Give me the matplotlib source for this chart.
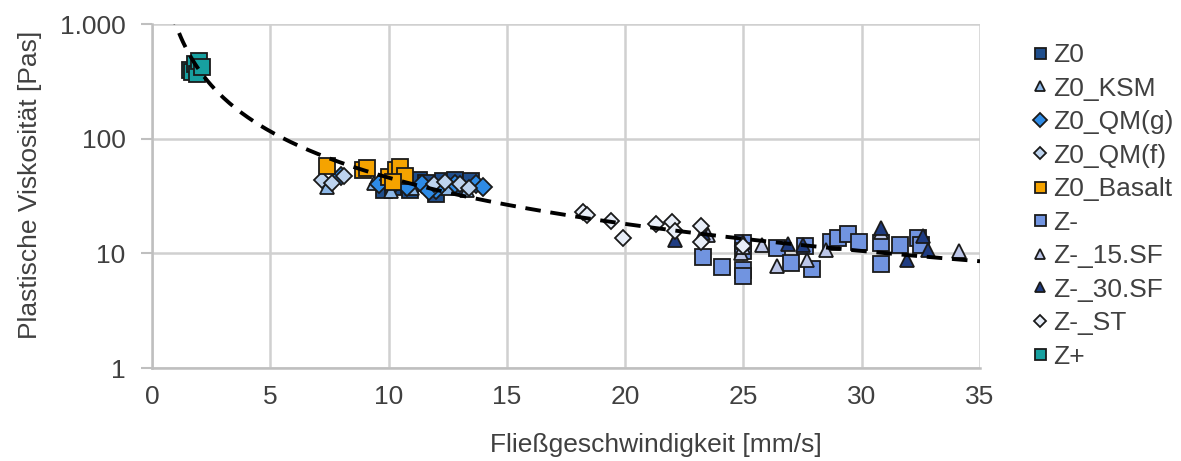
import matplotlib
matplotlib.use("Agg")
import matplotlib.pyplot as plt
import numpy as np
from matplotlib.ticker import FixedLocator, FixedFormatter, NullLocator

plt.rcParams['font.family'] = ['Liberation Sans', 'DejaVu Sans']

# ---------------- data ----------------
series_names = ["Z0", "Z0_KSM", "Z0_QM(g)", "Z0_QM(f)", "Z0_Basalt",
                "Z-", "Z-_15.SF", "Z-_30.SF", "Z-_ST", "Z+"]

z0_x = [9.8, 10.5, 10.9, 11.3, 12.0, 12.3, 12.8, 13.1, 13.5, 10.2, 11.6]
z0_y = [36, 40, 36, 44, 33, 43, 44, 38, 43, 38, 41]

z0ksm_x = [7.4, 10.1, 11.0, 12.5, 13.3, 9.4]
z0ksm_y = [38, 35, 37, 37, 36, 41]

z0qmg_x = [8.0, 9.6, 10.3, 10.8, 11.4, 12.0, 12.8, 13.7, 14.0, 11.7, 10.0]
z0qmg_y = [47, 40, 42, 38, 40, 36, 40, 40, 38, 35, 44]

z0qmf_x = [7.2, 7.6, 11.9, 12.4, 13.0, 13.4, 8.1]
z0qmf_y = [44, 41, 40, 42, 40, 37, 47]

basalt_x = [7.4, 8.9, 9.1, 10.0, 10.3, 10.5, 10.7, 10.2]
basalt_y = [58, 53, 56, 46, 53, 57, 47, 42]

zm_x = [23.3, 24.1, 25.0, 25.0, 25.0, 25.0, 26.4, 27.0, 27.9, 27.6, 28.7,
        29.0, 29.4, 29.9, 30.8, 30.8, 31.6, 32.4, 32.5]
zm_y = [9.3, 7.6, 12.3, 10.5, 7.2, 6.4, 11.1, 8.3, 7.3, 11.5, 12.6,
        13.6, 14.8, 12.6, 8.1, 12.3, 11.9, 13.6, 11.9]

z15_x = [23.5, 24.9, 25.0, 25.8, 26.4, 27.7, 28.5, 30.8, 34.1]
z15_y = [14.5, 10.1, 11.3, 11.9, 7.8, 8.8, 10.7, 15.3, 10.4]

z30_x = [22.1, 23.3, 25.0, 26.9, 27.5, 30.8, 31.9, 32.6, 32.8]
z30_y = [13.2, 15.1, 12.6, 12.0, 11.8, 16.6, 8.8, 14.1, 10.7]

zst_x = [18.2, 18.4, 19.4, 19.9, 21.3, 22.0, 22.1, 23.2, 23.2, 25.0]
zst_y = [23.0, 21.6, 19.3, 13.6, 18.0, 18.8, 15.7, 17.2, 12.6, 11.5]

zp_x = [1.6, 1.7, 1.8, 1.9, 2.0, 2.1]
zp_y = [400, 380, 450, 370, 480, 420]

# power-law trend line (Excel style): y = a * x^b
trend_a = 1000.0
trend_b = -1.34
trend_x_range = [0.8, 35.0]

x_ticks = [0, 5, 10, 15, 20, 25, 30, 35]
y_ticks = [1, 10, 100, 1000]
y_tick_labels = ["1", "10", "100", "1.000"]

# ---------------- styles ----------------
styles = [
    (z0_x, z0_y, 's', '#1F4E8C', 11),
    (z0ksm_x, z0ksm_y, '^', '#8DB8E8', 10.5),
    (z0qmg_x, z0qmg_y, 'D', '#2E8BE6', 9.5),
    (z0qmf_x, z0qmf_y, 'D', '#BDD3EE', 8.5),
    (basalt_x, basalt_y, 's', '#F5A300', 11),
    (zm_x, zm_y, 's', '#7194E0', 11),
    (z15_x, z15_y, '^', '#BCC6E8', 10.5),
    (z30_x, z30_y, '^', '#1F3C82', 10.5),
    (zst_x, zst_y, 'D', '#E8EEF8', 8.5),
    (zp_x, zp_y, 's', '#17A0A0', 11),
]

FS = 19
TXT = '#404040'

fig = plt.figure(figsize=(11.81, 4.61), dpi=100)
ax = fig.add_axes([152/1181, 1-368/461, (980-152)/1181, (368-24)/461])

for name, (xs, ys, m, c, ms) in zip(series_names, styles):
    ax.plot(xs, ys, linestyle='none', marker=m, markersize=ms,
            markerfacecolor=c, markeredgecolor='#1a1a1a', markeredgewidth=1.3,
            label=name, zorder=3)

tx = np.linspace(trend_x_range[0], trend_x_range[1], 400)
ax.plot(tx, trend_a * tx ** trend_b, color='black', linestyle=(0, (4, 2.5)),
        linewidth=2.8, zorder=4)

ax.set_yscale('log')
ax.set_xlim(0, 35)
ax.set_ylim(1, 1000)
ax.xaxis.set_major_locator(FixedLocator(x_ticks))
ax.yaxis.set_major_locator(FixedLocator(y_ticks))
ax.yaxis.set_major_formatter(FixedFormatter(y_tick_labels))
ax.yaxis.set_minor_locator(NullLocator())

ax.grid(True, which='major', color='#D0D0D0', linewidth=1.8)
ax.set_axisbelow(True)
for s in ['top', 'right']:
    ax.spines[s].set_visible(False)
for s in ['left', 'bottom']:
    ax.spines[s].set_color('#BFBFBF')
    ax.spines[s].set_linewidth(1.8)

ax.tick_params(axis='x', length=0, labelsize=FS, colors=TXT, pad=12)
ax.tick_params(axis='y', length=8, width=1.5, color='#BFBFBF', labelsize=FS,
               labelcolor=TXT, pad=11)

ax.set_xlabel('Fließgeschwindigkeit [mm/s]', fontsize=FS, color=TXT)
ax.xaxis.set_label_coords((656-152)/828, -0.189)
ax.set_ylabel('Plastische Viskosität [Pas]', fontsize=FS, color=TXT)
ax.yaxis.set_label_coords(-0.133, 0.532)

leg = ax.legend(loc='upper left', bbox_to_anchor=(1.045, 0.975), frameon=False,
                fontsize=FS, markerscale=0.72, handletextpad=0.05,
                labelspacing=0.36, handlelength=0.9, borderaxespad=0)
for t in leg.get_texts():
    t.set_color(TXT)

fig.savefig('out.png', dpi=100)
